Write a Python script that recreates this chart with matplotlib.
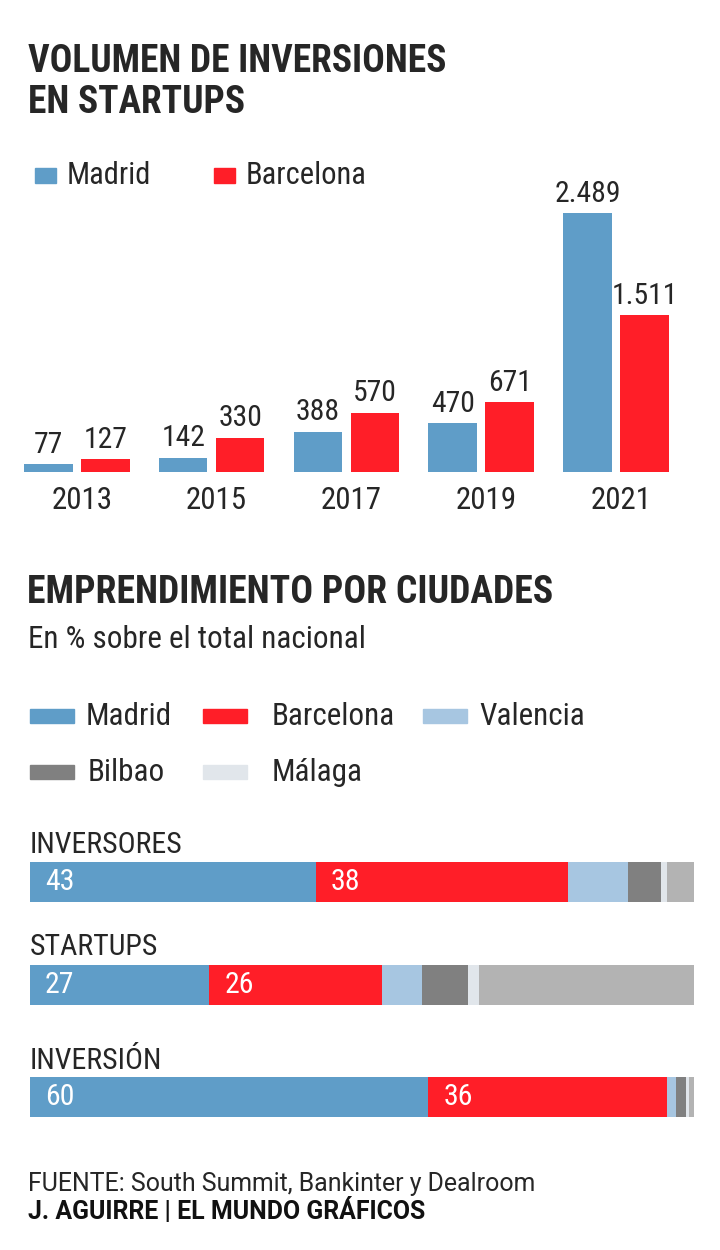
import matplotlib
matplotlib.use("Agg")
import matplotlib.pyplot as plt
from matplotlib import font_manager
from matplotlib.patches import Rectangle
from matplotlib.transforms import ScaledTranslation
import numpy as np

# ---------------- data ----------------
years = ["2013", "2015", "2017", "2019", "2021"]
madrid_inv = [77, 142, 388, 470, 2489]
barcelona_inv = [127, 330, 570, 671, 1511]
madrid_lbl = ["77", "142", "388", "470", "2.489"]
barcelona_lbl = ["127", "330", "570", "671", "1.511"]

rows = ["INVERSORES", "STARTUPS", "INVERSIÓN"]
cities = ["Madrid", "Barcelona", "Valencia", "Bilbao", "Málaga", "Otras"]
share_madrid = [43, 27, 60]
share_barcelona = [38, 26, 36]
share_valencia = [9, 6, 1.3]
share_bilbao = [5, 7, 1.5]
share_malaga = [1, 1.6, 0.4]
share_otras = [4, 32.4, 0.8]

# ---------------- style ----------------
names = {f.name for f in font_manager.fontManager.ttflist}
if "Roboto Condensed" in names:
    FONT = "Roboto Condensed"; SC = 1.0
else:
    FONT = "Roboto"; SC = 0.93
FOOT = "Roboto"
plt.rcParams["font.family"] = [FONT, "DejaVu Sans"]

C_MAD = "#5f9dc8"
C_BCN = "#ff1e28"
C_VAL = "#a7c6e1"
C_BIL = "#808080"
C_MAL = "#e1e6eb"
C_OTR = "#b3b3b3"
TXT = "#262626"
city_colors = [C_MAD, C_BCN, C_VAL, C_BIL, C_MAL, C_OTR]

W, H = 720, 1250
fig = plt.figure(figsize=(W / 100, H / 100), dpi=100)
fig.patch.set_facecolor("white")


def fx(px):
    return px / W


def fy(px):
    return 1 - px / H


def ftext(x, y, s, size, weight="normal", color=TXT, family=None, **kw):
    fig.text(fx(x), fy(y), s, fontsize=size, fontweight=weight, color=color,
             va="baseline", ha=kw.pop("ha", "left"),
             family=family if family else [FONT, "DejaVu Sans"], **kw)


# ---------------- titles ----------------
ftext(28, 72, "VOLUMEN DE INVERSIONES", 27 * SC, "bold")
ftext(28, 113, "EN STARTUPS", 27 * SC, "bold")

# legend 1
for px, col, lab in [(35, C_MAD, "Madrid"), (214, C_BCN, "Barcelona")]:
    fig.patches.append(Rectangle((fx(px), fy(183)), fx(21), 15 / H, color=col,
                                 transform=fig.transFigure, figure=fig))
    ftext(px + 32, 184, lab, 22 * SC)

# ---------------- grouped bar chart ----------------
base_px, top_px = 472.3, 180
ax = fig.add_axes([0, fy(base_px), 1, (base_px - top_px) / H])
x = np.arange(len(years))
bw, off = 0.361, 0.2115
b1 = ax.bar(x - off, madrid_inv, bw, color=C_MAD, linewidth=0)
b2 = ax.bar(x + off, barcelona_inv, bw, color=C_BCN, linewidth=0)
ax.set_xlim(-0.570, 4.771)
ax.set_ylim(0, (base_px - top_px) / 0.10406)
for bars, labs in [(b1, madrid_lbl), (b2, barcelona_lbl)]:
    ax.bar_label(bars, labels=labs, padding=4, fontsize=21.3 * SC, color=TXT)
ax.set_xticks(x)
ax.set_xticklabels(years, fontsize=22.3 * SC, color=TXT)
ax.tick_params(axis="x", length=0, pad=10)
for lbl in ax.get_xticklabels():
    lbl.set_transform(lbl.get_transform() + ScaledTranslation(0.05, 0, fig.dpi_scale_trans))
ax.set_yticks([])
for s in ax.spines.values():
    s.set_visible(False)
ax.patch.set_alpha(0)

# ---------------- second section ----------------
ftext(27, 603, "EMPRENDIMIENTO POR CIUDADES", 27.2 * SC, "bold")
ftext(28, 648, "En % sobre el total nacional", 22.4 * SC)

legend2 = [(30, 723.3, 0), (203, 723.3, 1), (423, 723.3, 2),
           (30, 779.3, 3), (203, 779.3, 4)]
text_x = {0: 86, 1: 272, 2: 479, 3: 88, 4: 272}
for px, py, i in legend2:
    fig.patches.append(Rectangle((fx(px), fy(py)), fx(44), 14 / H, color=city_colors[i],
                                 transform=fig.transFigure, figure=fig))
    ftext(text_x[i], py + 2, cities[i], 22.4 * SC)

shares = np.array([share_madrid, share_barcelona, share_valencia,
                   share_bilbao, share_malaga, share_otras])
row_label_base = [852.7, 955, 1069.3]
row_bar_bottom = [901.7, 1005, 1116.7]
for r, name in enumerate(rows):
    ftext(30, row_label_base[r], name, 21.5 * SC)
    axb = fig.add_axes([fx(30), fy(row_bar_bottom[r]), fx(664), 40 / H])
    left = 0.0
    for c in range(len(cities)):
        v = shares[c, r]
        axb.barh([0], [v], left=left, height=1.0, color=city_colors[c], linewidth=0)
        if c < 2:
            axb.annotate(str(int(v)), xy=(left, 0), xytext=(15, 0),
                         textcoords="offset pixels", ha="left", va="center",
                         color="white", fontsize=21.5 * SC)
        left += v
    axb.set_xlim(0, 100)
    axb.set_ylim(-0.5, 0.5)
    axb.axis("off")

# ---------------- footer ----------------
ftext(28, 1191, "FUENTE: South Summit, Bankinter y Dealroom", 17.9, family=[FOOT, "DejaVu Sans"])
ftext(28, 1219, "J. AGUIRRE | EL MUNDO GRÁFICOS", 17.9, "bold", family=[FOOT, "DejaVu Sans"], color="#111111")

fig.savefig("out.png", dpi=100, facecolor="white")
